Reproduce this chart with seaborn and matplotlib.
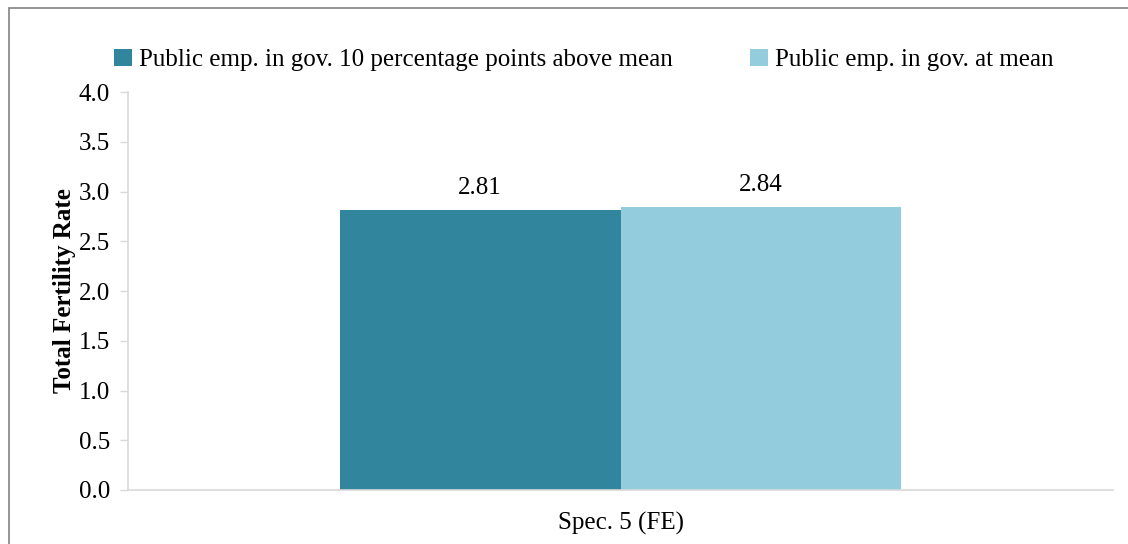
import matplotlib
matplotlib.use("Agg")
import matplotlib.pyplot as plt
from matplotlib.patches import Rectangle
import seaborn as sns
import pandas as pd

# Chart data
categories = ["Spec. 5 (FE)"]
series_names = [
    "Public emp. in gov. 10 percentage points above mean",
    "Public emp. in gov. at mean",
]
series_values = [[2.81], [2.84]]
value_labels = ["2.81", "2.84"]
y_ticks = [0.0, 0.5, 1.0, 1.5, 2.0, 2.5, 3.0, 3.5, 4.0]
colors = ["#31859C", "#93CDDD"]

sns.set_style("white")
plt.rcParams["font.family"] = ["Liberation Serif", "DejaVu Serif"]
plt.rcParams["text.color"] = "black"
plt.rcParams["axes.labelcolor"] = "black"
plt.rcParams["xtick.color"] = "black"
plt.rcParams["ytick.color"] = "black"

FS = 18

rows = []
for name, vals in zip(series_names, series_values):
    for cat, v in zip(categories, vals):
        rows.append({"cat": cat, "series": name, "value": v})
df = pd.DataFrame(rows)

fig = plt.figure(figsize=(11.28, 5.44), dpi=100)
ax = fig.add_axes([128 / 1128, 1 - 490 / 544, (1113 - 128) / 1128, (490 - 92) / 544])

sns.barplot(data=df, x="cat", y="value", hue="series", palette=colors,
            width=0.57, saturation=1, linewidth=0, ax=ax, legend=True)

ax.set_ylim(0, 4.0)
ax.set_xlim(-0.5, 0.5)
ax.set_yticks(y_ticks)
ax.set_yticklabels([f"{t:.1f}" for t in y_ticks], fontsize=FS)
ax.tick_params(axis="y", length=6, width=1, color="#D9D9D9", labelcolor="black",
               direction="out", pad=7, left=True)
ax.tick_params(axis="x", length=0, labelsize=FS, labelcolor="black", pad=16)
ax.set_xlabel("")
ax.set_ylabel("Total Fertility Rate", fontsize=FS, fontweight="bold", labelpad=2)

for side in ["top", "right"]:
    ax.spines[side].set_visible(False)
for side in ["left", "bottom"]:
    ax.spines[side].set_color("#D9D9D9")
    ax.spines[side].set_linewidth(1.2)

# Category boundary ticks on the x axis
ax.set_xticks([-0.5, 0.5], minor=True)
ax.tick_params(axis="x", which="minor", length=7, width=1, color="#D9D9D9", direction="out")

for container, lab in zip(ax.containers, value_labels):
    ax.bar_label(container, labels=[lab], padding=8, fontsize=FS)

handles, labels = ax.get_legend_handles_labels()
ax.legend(handles, labels, loc="upper center", bbox_to_anchor=(584 / 1128, (544 - 26) / 544),
          bbox_transform=fig.transFigure, ncol=2, frameon=False, fontsize=FS,
          handlelength=0.7, handleheight=0.7, handletextpad=0.3, columnspacing=3.1)

# Outer chart frame
fig.patches.append(Rectangle((8.5 / 1128, -0.1), 1.2, 1 - 7.5 / 544 + 0.1,
                             transform=fig.transFigure, fill=False,
                             edgecolor="#8C8C8C", linewidth=1.3))

fig.savefig("out.png", dpi=100)
